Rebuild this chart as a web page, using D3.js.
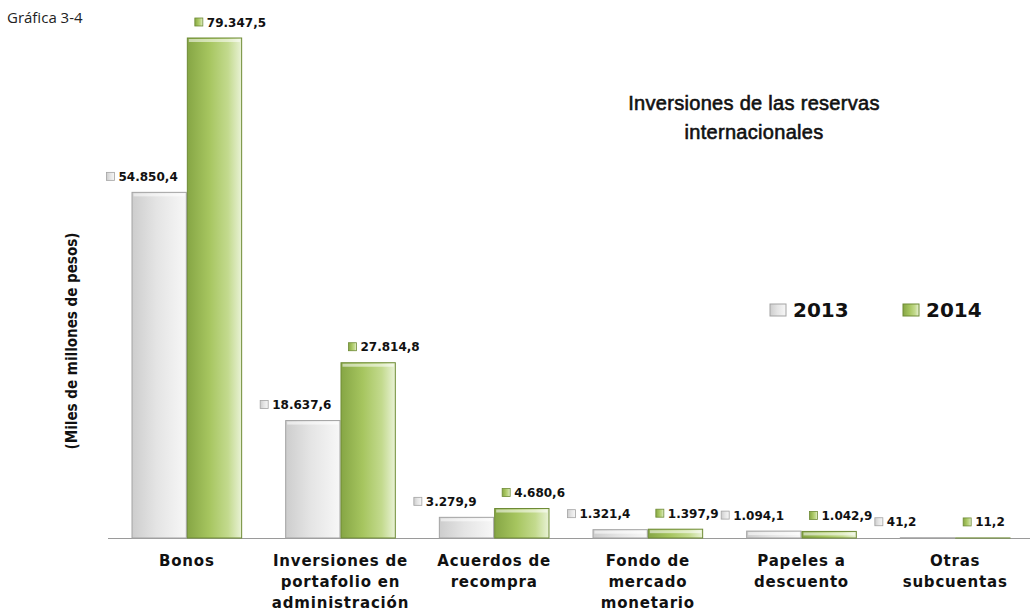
<!DOCTYPE html>
<html>
<head>
<meta charset="utf-8">
<script src="https://d3js.org/d3.v7.min.js"></script>
<style>
  body { margin: 0; background: #fff; }
  svg { display: block; }
</style>
</head>
<body>
<div id="chart"></div>
<script>
// data (miles de millones de pesos)
var categories = ["Bonos", "Inversiones de portafolio en administración", "Acuerdos de recompra",
                  "Fondo de mercado monetario", "Papeles a descuento", "Otras subcuentas"];
var tickLabels = [["Bonos"], ["Inversiones de", "portafolio en", "administración"], ["Acuerdos de", "recompra"],
                  ["Fondo de", "mercado", "monetario"], ["Papeles a", "descuento"], ["Otras", "subcuentas"]];
var years = ["2013", "2014"];
var values2013 = [54850.4, 18637.6, 3279.9, 1321.4, 1094.1, 41.2];
var values2014 = [79347.5, 27814.8, 4680.6, 1397.9, 1042.9, 11.2];
var valueLabels2013 = ["54.850,4", "18.637,6", "3.279,9", "1.321,4", "1.094,1", "41,2"];
var valueLabels2014 = ["79.347,5", "27.814,8", "4.680,6", "1.397,9", "1.042,9", "11,2"];

var width = 1030, height = 613;
var baseY = 538;

var svg = d3.select("#chart").append("svg")
  .attr("width", width)
  .attr("height", height);

// gradients for the bars and the little label keys
var defs = svg.append("defs");
function grad(id, stops) {
  var g = defs.append("linearGradient").attr("id", id)
    .attr("x1", "0%").attr("x2", "100%").attr("y1", "0%").attr("y2", "0%");
  stops.forEach(function(s) {
    g.append("stop").attr("offset", s[0]).attr("stop-color", s[1]);
  });
}
grad("g2013", [["0%", "#cdcdcd"], ["45%", "#e4e4e4"], ["100%", "#f7f7f7"]]);
grad("g2014", [["0%", "#86a645"], ["40%", "#a6c55f"], ["75%", "#c3da8e"], ["100%", "#e9f2d6"]]);

var fills = {"2013": "url(#g2013)", "2014": "url(#g2014)"};
var strokes = {"2013": "#a3a3a3", "2014": "#6e8b35"};

// scales
var x0 = d3.scaleBand().domain(categories).range([110, 1032])
  .paddingInner(0.28).paddingOuter(0.14);
var x1 = d3.scaleBand().domain(years).range([0, x0.bandwidth()]);
var y = d3.scaleLinear().domain([0, 79347.5]).range([baseY, 38]);

var rows = categories.map(function(c, i) {
  return {cat: c, bars: [
    {year: "2013", v: values2013[i], lab: valueLabels2013[i]},
    {year: "2014", v: values2014[i], lab: valueLabels2014[i]}
  ]};
});

// baseline
svg.append("line")
  .attr("x1", 108).attr("x2", width)
  .attr("y1", baseY + 0.5).attr("y2", baseY + 0.5)
  .attr("stroke", "#9a9a9a").attr("stroke-width", 1.2);

var groups = svg.selectAll(".grp")
  .data(rows)
  .enter().append("g")
  .attr("class", "grp")
  .attr("transform", function(d) { return "translate(" + x0(d.cat) + ",0)"; });

var bars = groups.selectAll(".bar")
  .data(function(d) { return d.bars; })
  .enter().append("g")
  .attr("class", "bar");

bars.append("rect")
  .attr("x", function(d) { return x1(d.year) + 0.5; })
  .attr("y", function(d) { return y(d.v); })
  .attr("width", x1.bandwidth() - 1)
  .attr("height", function(d) { return baseY - y(d.v); })
  .attr("fill", function(d) { return fills[d.year]; })
  .attr("stroke", function(d) { return strokes[d.year]; })
  .attr("stroke-width", 1);

// bevel highlight on top of each bar
bars.append("rect")
  .attr("x", function(d) { return x1(d.year) + 2; })
  .attr("y", function(d) { return y(d.v) + 1; })
  .attr("width", x1.bandwidth() - 4)
  .attr("height", function(d) { return Math.min(3, Math.max(0, baseY - y(d.v) - 2)); })
  .attr("fill", "#ffffff").attr("opacity", 0.55);

// value labels with their legend key
var labs = bars.append("g")
  .attr("transform", function(d) {
    var lx = d.year === "2013" ? x1(d.year) - 25 : x1(d.year) + 8;
    return "translate(" + lx + "," + (y(d.v) - 16) + ")";
  });
labs.append("rect")
  .attr("x", 0).attr("y", -4)
  .attr("width", 8).attr("height", 8)
  .attr("fill", function(d) { return fills[d.year]; })
  .attr("stroke", function(d) { return strokes[d.year]; })
  .attr("stroke-width", 0.8);
labs.append("text")
  .attr("x", 12).attr("y", 4.5)
  .attr("font-family", "DejaVu Sans, Verdana, sans-serif")
  .attr("font-weight", "bold")
  .attr("font-size", 12)
  .attr("fill", "#111")
  .text(function(d) { return d.lab; });

// category axis
var xAxis = svg.append("g")
  .attr("transform", "translate(0," + baseY + ")")
  .call(d3.axisBottom(x0).tickSize(0).tickFormat(""));
xAxis.select(".domain").remove();
xAxis.selectAll(".tick text").remove();
xAxis.selectAll(".tick").append("text")
  .attr("fill", "#111")
  .attr("text-anchor", "middle")
  .attr("font-family", "DejaVu Sans, Verdana, sans-serif")
  .attr("font-weight", "bold")
  .attr("font-size", 15)
  .attr("letter-spacing", 0.8)
  .each(function(d, i) {
    var t = d3.select(this);
    tickLabels[i].forEach(function(line, k) {
      t.append("tspan").attr("x", 0).attr("y", 28 + k * 21).text(line);
    });
  });

// y title
svg.append("text")
  .attr("transform", "translate(77,341) rotate(-90)")
  .attr("text-anchor", "middle")
  .attr("font-family", "Liberation Sans Narrow, DejaVu Sans Condensed, sans-serif")
  .attr("font-weight", "bold")
  .attr("font-size", 15)
  .attr("fill", "#111")
  .text("(Miles de millones de pesos)");

// chart number
svg.append("text")
  .attr("x", 7).attr("y", 23)
  .attr("font-family", "Open Sans, Noto Sans, sans-serif")
  .attr("font-size", 15)
  .attr("fill", "#222")
  .text("Gráfica 3-4");

// title
var title = svg.append("text")
  .attr("text-anchor", "middle")
  .attr("font-family", "Liberation Sans, Arial, sans-serif")
  .attr("font-size", 20)
  .attr("letter-spacing", 0.3)
  .attr("fill", "#111")
  .attr("stroke", "#111").attr("stroke-width", 0.6);
title.append("tspan").attr("x", 754).attr("y", 110).text("Inversiones de las reservas");
title.append("tspan").attr("x", 754).attr("y", 139).text("internacionales");

// legend
var legend = svg.selectAll(".leg")
  .data(years)
  .enter().append("g")
  .attr("class", "leg")
  .attr("transform", function(d, i) { return "translate(" + (770 + i * 133) + ",304)"; });
legend.append("rect")
  .attr("width", 16).attr("height", 12)
  .attr("fill", function(d) { return fills[d]; })
  .attr("stroke", function(d) { return strokes[d]; });
legend.append("text")
  .attr("x", 23).attr("y", 13)
  .attr("font-family", "DejaVu Sans, Verdana, sans-serif")
  .attr("font-weight", "bold")
  .attr("font-size", 20)
  .attr("fill", "#111")
  .text(function(d) { return d; });
</script>
</body>
</html>
